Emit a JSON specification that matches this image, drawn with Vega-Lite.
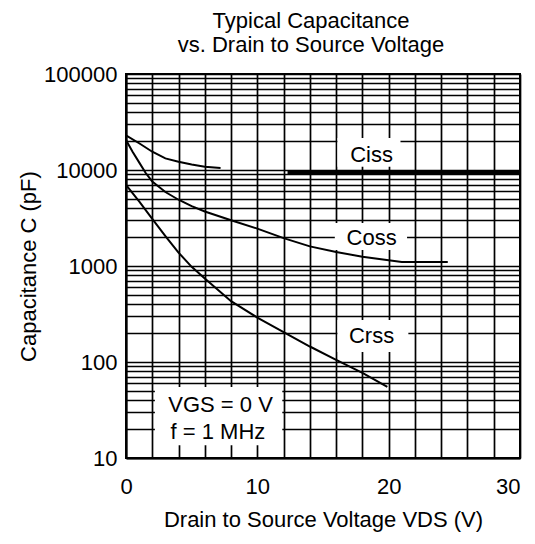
{
  "$schema": "https://vega.github.io/schema/vega-lite/v6.json",
  "autosize": {"type": "none"},
  "width": 394,
  "height": 384,
  "padding": {"left": 126, "top": 74, "right": 15, "bottom": 86},
  "background": "white",
  "title": {
    "text": ["Typical Capacitance", "vs. Drain to Source Voltage"],
    "font": "Liberation Sans",
    "fontSize": 22,
    "fontWeight": "normal",
    "lineHeight": 24,
    "color": "black",
    "anchor": "middle",
    "frame": "group",
    "offset": 6,
    "dx": -12
  },
  "config": {
    "view": {"stroke": "black", "strokeWidth": 2},
    "font": "Liberation Sans",
    "axis": {
      "labelFont": "Liberation Sans",
      "titleFont": "Liberation Sans",
      "labelFontSize": 22,
      "titleFontSize": 22,
      "titleFontWeight": "normal",
      "labelColor": "black",
      "titleColor": "black",
      "gridColor": "black",
      "gridOpacity": 1,
      "gridWidth": 1.7,
      "domainColor": "black",
      "domainWidth": 2,
      "ticks": false,
      "zindex": 0
    }
  },
  "resolve": {"axis": {"x": "independent"}},
  "datasets": {
    "curves": [
      {"series": "Ciss", "part": "Ciss-a", "v": 0, "c": 23000},
      {"series": "Ciss", "part": "Ciss-a", "v": 1, "c": 19000},
      {"series": "Ciss", "part": "Ciss-a", "v": 2, "c": 15500},
      {"series": "Ciss", "part": "Ciss-a", "v": 3, "c": 13200},
      {"series": "Ciss", "part": "Ciss-a", "v": 4, "c": 12200},
      {"series": "Ciss", "part": "Ciss-a", "v": 5, "c": 11400},
      {"series": "Ciss", "part": "Ciss-a", "v": 6, "c": 10800},
      {"series": "Ciss", "part": "Ciss-a", "v": 7.2, "c": 10500},
      {"series": "Ciss", "part": "Ciss-b", "v": 12.3, "c": 9400},
      {"series": "Ciss", "part": "Ciss-b", "v": 30, "c": 9400},
      {"series": "Coss", "part": "Coss", "v": 0, "c": 20500},
      {"series": "Coss", "part": "Coss", "v": 0.5, "c": 15500},
      {"series": "Coss", "part": "Coss", "v": 1, "c": 12000},
      {"series": "Coss", "part": "Coss", "v": 1.5, "c": 9300},
      {"series": "Coss", "part": "Coss", "v": 2, "c": 7600},
      {"series": "Coss", "part": "Coss", "v": 3, "c": 5900},
      {"series": "Coss", "part": "Coss", "v": 4, "c": 4900},
      {"series": "Coss", "part": "Coss", "v": 5, "c": 4200},
      {"series": "Coss", "part": "Coss", "v": 6, "c": 3700},
      {"series": "Coss", "part": "Coss", "v": 8, "c": 3000},
      {"series": "Coss", "part": "Coss", "v": 10, "c": 2450},
      {"series": "Coss", "part": "Coss", "v": 12, "c": 1950},
      {"series": "Coss", "part": "Coss", "v": 14, "c": 1600},
      {"series": "Coss", "part": "Coss", "v": 16, "c": 1400},
      {"series": "Coss", "part": "Coss", "v": 18, "c": 1250},
      {"series": "Coss", "part": "Coss", "v": 20, "c": 1150},
      {"series": "Coss", "part": "Coss", "v": 21, "c": 1100},
      {"series": "Coss", "part": "Coss", "v": 24.5, "c": 1100},
      {"series": "Crss", "part": "Crss", "v": 0, "c": 7000},
      {"series": "Crss", "part": "Crss", "v": 1, "c": 4700},
      {"series": "Crss", "part": "Crss", "v": 2, "c": 3100},
      {"series": "Crss", "part": "Crss", "v": 3, "c": 2050},
      {"series": "Crss", "part": "Crss", "v": 4, "c": 1380},
      {"series": "Crss", "part": "Crss", "v": 5, "c": 980},
      {"series": "Crss", "part": "Crss", "v": 6, "c": 740},
      {"series": "Crss", "part": "Crss", "v": 8, "c": 430},
      {"series": "Crss", "part": "Crss", "v": 10, "c": 290},
      {"series": "Crss", "part": "Crss", "v": 12, "c": 205},
      {"series": "Crss", "part": "Crss", "v": 14, "c": 145},
      {"series": "Crss", "part": "Crss", "v": 16, "c": 105},
      {"series": "Crss", "part": "Crss", "v": 18, "c": 77},
      {"series": "Crss", "part": "Crss", "v": 19.9, "c": 55}
    ],
    "boxes": [
      {"name": "Ciss", "v1": 16.1, "v2": 20.9, "c1": 10800, "c2": 21500},
      {"name": "Coss", "v1": 15.9, "v2": 21.4, "c1": 1470, "c2": 2800},
      {"name": "Crss", "v1": 16.1, "v2": 21.5, "c1": 127, "c2": 274},
      {"name": "cond", "v1": 2.2, "v2": 11.9, "c1": 13.6, "c2": 55}
    ],
    "labels": [
      {"text": "Ciss", "v": 18.7, "c": 14300},
      {"text": "Coss", "v": 18.7, "c": 1950},
      {"text": "Crss", "v": 18.7, "c": 186},
      {"text": "VGS = 0 V", "v": 7.2, "c": 35.6},
      {"text": "f = 1 MHz", "v": 7.0, "c": 18.6}
    ]
  },
  "layer": [
    {
      "data": {"name": "boxes"},
      "mark": {"type": "rect", "fill": "white", "stroke": null},
      "encoding": {
        "x": {
          "field": "v1", "type": "quantitative",
          "scale": {"domain": [0, 30], "nice": false, "zero": false},
          "axis": {
            "orient": "bottom",
            "title": null,
            "grid": true,
            "labels": false,
            "values": [0, 2, 4, 6, 8, 10, 12, 14, 16, 18, 20, 22, 24, 26, 28, 30]
          }
        },
        "x2": {"field": "v2"},
        "y": {
          "field": "c1", "type": "quantitative",
          "scale": {"type": "log", "domain": [10, 100000], "nice": false},
          "axis": {
            "title": "Capacitance C (pF)",
            "grid": true,
            "values": [10, 20, 30, 40, 50, 60, 70, 80, 90, 100, 200, 300, 400, 500, 600, 700, 800, 900, 1000, 2000, 3000, 4000, 5000, 6000, 7000, 8000, 9000, 10000, 20000, 30000, 40000, 50000, 60000, 70000, 80000, 90000, 100000],
            "labelExpr": "indexof([10, 100, 1000, 10000, 100000], datum.value) >= 0 ? format(datum.value, 'd') : ''",
            "labelOverlap": false,
            "labelFlush": false,
            "labelPadding": 9,
            "titleX": -98,
            "titleBaseline": "middle"
          }
        },
        "y2": {"field": "c2"}
      }
    },
    {
      "data": {"name": "curves"},
      "transform": [{"filter": "datum.part !== 'Ciss-b'"}],
      "mark": {"type": "line", "color": "black", "strokeWidth": 2},
      "encoding": {
        "x": {"field": "v", "type": "quantitative", "axis": null},
        "y": {"field": "c", "type": "quantitative"},
        "detail": {"field": "part"}
      }
    },
    {
      "data": {"name": "curves"},
      "transform": [{"filter": "datum.part === 'Ciss-b'"}],
      "mark": {"type": "line", "color": "black", "strokeWidth": 4},
      "encoding": {
        "x": {"field": "v", "type": "quantitative", "axis": null},
        "y": {"field": "c", "type": "quantitative"},
        "detail": {"field": "part"}
      }
    },
    {
      "data": {"name": "labels"},
      "mark": {"type": "text", "font": "Liberation Sans", "fontSize": 22, "color": "black", "align": "center", "baseline": "middle"},
      "encoding": {
        "x": {
          "field": "v", "type": "quantitative",
          "axis": {
            "orient": "bottom",
            "title": "Drain to Source Voltage VDS (V)",
            "grid": false,
            "domain": false,
            "values": [0, 10, 20, 30],
            "format": "d",
            "labelOverlap": false,
            "labelFlush": false,
            "labelAlign": {"condition": {"test": "datum.value > 29", "value": "right"}, "value": "center"},
            "labelPadding": 18,
            "titlePadding": 12
          }
        },
        "y": {"field": "c", "type": "quantitative"},
        "text": {"field": "text"}
      }
    }
  ]
}
